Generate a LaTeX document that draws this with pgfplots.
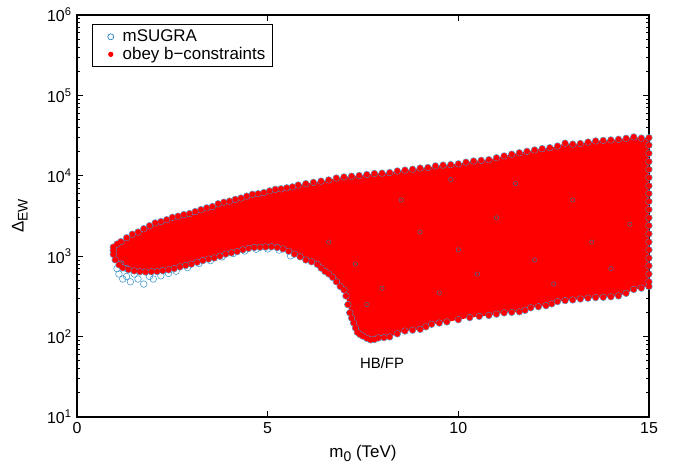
\documentclass[border=0pt]{standalone}
\usepackage{pgfplots}
\pgfplotsset{compat=1.18}
\usepackage{pgfplotstable}
\usepackage{fontspec}
\setmainfont{Liberation Sans}
\definecolor{mblue}{RGB}{0,114,189}
\colorlet{rimblue}{mblue!75!white}
\pgfplotstableread{
x y
0.95 1300
1.05 1420
1.15 1520
1.3 1700
1.45 1880
1.6 2000
1.75 2200
1.9 2400
2.05 2600
2.2 2700
2.35 2850
2.5 3050
2.65 3150
2.8 3300
2.95 3400
3.1 3600
3.25 3800
3.4 4000
3.55 4150
3.7 4500
3.85 4700
4.0 4850
4.15 5100
4.3 5300
4.45 5600
4.6 5900
4.75 6000
4.9 6200
5.05 6500
5.2 6800
5.35 6900
5.5 7100
5.65 7300
5.8 7700
6.0 8000
6.2 8300
6.4 8600
6.6 8900
6.8 9400
7.0 9700
7.2 9900
7.4 10100
7.6 10400
7.8 10700
8.0 10800
8.2 11000
8.4 11500
8.6 11800
8.8 12100
9.0 12500
9.2 12700
9.4 13300
9.6 13600
9.8 13800
10.0 14100
10.2 14800
10.4 15300
10.6 15600
10.8 15900
11.0 16800
11.2 17700
11.4 18600
11.6 19400
11.8 20200
12.0 21000
12.2 21800
12.4 22400
12.6 23500
12.8 25500
13.0 24800
13.2 25300
13.4 26300
13.6 27200
13.8 27600
14.0 28000
14.2 28500
14.4 29300
14.6 30500
14.8 29500
15.0 29800
15.0 24000
15.0 19000
15.0 15000
15.0 12000
15.0 9500
15.0 7500
15.0 6000
15.0 4800
15.0 3800
15.0 3000
15.0 2400
15.0 1900
15.0 1500
15.0 1200
15.0 950
15.0 760
15.0 600
15.0 480
15.0 420
14.8 400
14.6 385
14.4 345
14.2 320
14.0 312
13.8 308
13.6 305
13.4 300
13.2 293
13.0 285
12.8 280
12.6 272
12.45 255
12.3 242
12.1 235
11.9 228
11.75 212
11.6 203
11.4 200
11.2 197
11.0 190
10.8 183
10.55 178
10.3 172
10.0 162
9.7 152
9.5 147
9.3 142
9.15 132
9.0 123
8.8 120
8.6 117
8.4 108
8.2 99
8.05 97
7.9 96
7.8 92
7.7 91
7.6 95
7.5 101
7.42 106
7.35 113
7.3 128
7.25 148
7.2 170
7.15 198
7.1 250
7.05 320
7.0 380
6.9 420
6.8 480
6.7 545
6.6 600
6.5 645
6.4 710
6.3 790
6.15 850
6.0 895
5.85 980
5.7 1060
5.55 1150
5.4 1230
5.25 1280
5.1 1310
4.95 1300
4.8 1290
4.65 1280
4.5 1250
4.35 1200
4.2 1140
4.05 1100
3.9 1060
3.75 1000
3.6 950
3.45 920
3.3 880
3.15 840
3.0 795
2.85 765
2.7 735
2.55 700
2.4 675
2.25 660
2.1 645
1.95 640
1.8 635
1.65 640
1.5 655
1.35 680
1.2 715
1.1 780
1.0 900
0.95 1050
0.95 1180
}\boundary
\pgfplotstableread{
x y
1.1 600
1.2 520
1.3 560
1.4 480
1.5 600
1.6 520
1.75 450
1.9 560
2.0 520
2.2 570
2.4 610
2.6 650
1.15 800
1.3 700
1.05 700
2.9 720
3.2 810
3.5 880
3.8 980
4.1 1080
4.4 1160
4.7 1220
5.0 1230
5.3 1190
5.6 1010
}\blueonly
\pgfplotstableread{
x y
7.3 800
8.0 400
9.0 2000
10.5 600
11.0 3000
12.0 900
13.0 5000
13.5 1500
14.0 700
6.6 1500
7.6 250
9.5 350
12.5 450
10.0 1200
11.5 8000
14.5 2500
8.5 5000
9.8 9000
}\speck
\begin{document}
\begin{tikzpicture}
\path[use as bounding box] (-77bp,-55bp) rectangle (604bp,417bp);
\begin{axis}[
  at={(0,0)}, anchor=south west,
  scale only axis, width=572bp, height=402bp,
  xmin=0, xmax=15, ymin=10, ymax=1e6, ymode=log,
  xtick={0,5,10,15},
  ytick={10,100,1000,10000,100000,1000000},
  yticklabels={10\textsuperscript{1},10\textsuperscript{2},10\textsuperscript{3},10\textsuperscript{4},10\textsuperscript{5},10\textsuperscript{6}},
  /pgf/number format/assume math mode=true,
  tick align=inside, tick pos=both,
  major tick length=6bp, minor tick length=3bp,
  axis line style={line width=1.1bp},
  every tick/.style={black, line width=0.7bp},
  ticklabel style={font=\fontsize{16}{19}\selectfont},
  xticklabel style={yshift=-2bp},
  yticklabel style={xshift=-2bp},
  xlabel={m\raisebox{-0.45ex}{\fontsize{14}{16}\selectfont 0} (TeV)},
  ylabel={Δ\raisebox{-0.45ex}{\fontsize{14}{16}\selectfont EW}},
  label style={font=\fontsize{17}{20}\selectfont},
  xlabel style={at={(axis description cs:0.5,0)}, anchor=north, yshift=-25bp},
  ylabel style={at={(axis description cs:-0.1,0.5)}, anchor=center},
  clip=false,
  legend cell align=left,
  legend style={at={(rel axis cs:0.0262,0.977)}, anchor=north west,
    font=\fontsize{17}{20}\selectfont, draw=black, line width=0.8bp,
    inner xsep=2bp, inner ysep=3.5bp, row sep=0bp,
    nodes={inner ysep=2bp, inner xsep=5.5bp}},
]
\addplot[only marks, mark=o, mark size=3.3bp, mark options={draw=rimblue, line width=0.55bp}, forget plot] table {\blueonly};
\addplot[only marks, mark=o, mark size=3.3bp, mark options={draw=rimblue, line width=0.55bp}, forget plot] table {\boundary};
\addplot[fill=red, draw=none, forget plot] table {\boundary} -- cycle;
\addplot[only marks, mark=o, mark size=2.2bp, mark options={draw=mblue!60!gray, line width=0.45bp}, forget plot] table {\speck};
\addplot[only marks, mark=*, mark size=2.7bp, mark options={draw=red, fill=red}, forget plot] table {\boundary};
\addlegendimage{legend image code/.code={\path (0bp,0bp) (22bp,0bp); \draw[mblue, line width=0.6bp] (16bp,0bp) circle (3bp);}}
\addlegendentry{mSUGRA}
\addlegendimage{legend image code/.code={\path (0bp,0bp) (22bp,0bp); \fill[red] (16bp,0bp) circle (2.2bp);}}
\addlegendentry{obey b−constraints}
\node[font=\fontsize{15}{18}\selectfont] at (axis cs:8.0,47) {HB/FP};
\end{axis}
\end{tikzpicture}
\end{document}
